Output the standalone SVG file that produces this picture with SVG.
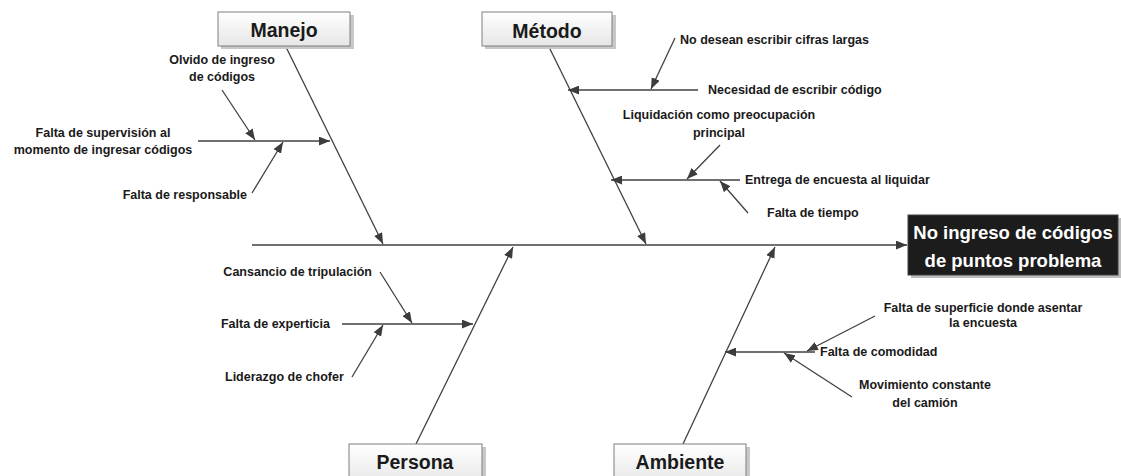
<svg xmlns="http://www.w3.org/2000/svg" width="1121" height="476" viewBox="0 0 1121 476">
<defs>
<linearGradient id="boxg" x1="0" y1="0" x2="0" y2="1">
<stop offset="0" stop-color="#ffffff"/>
<stop offset="1" stop-color="#e6e6e6"/>
</linearGradient>
<marker id="ah" viewBox="0 0 10 8" refX="10" refY="4" markerWidth="11" markerHeight="9" markerUnits="userSpaceOnUse" orient="auto">
<path d="M0,0 L10,4 L0,8 Z" fill="#3c3c3c"/>
</marker>
</defs>
<style>
.ln{stroke:#404040;stroke-width:1.3;fill:none}
.ar{stroke:#404040;stroke-width:1.3;fill:none;marker-end:url(#ah)}
.t{font-family:"Liberation Sans",Arial,sans-serif;font-weight:bold;font-size:12.5px;fill:#1a1a1a}
.cat{font-family:"Liberation Sans",Arial,sans-serif;font-weight:bold;font-size:19.5px;fill:#1a1a1a;text-anchor:middle}
.box{fill:url(#boxg);stroke:#7f7f7f;stroke-width:1}
.sh{fill:#c8c8c8}
.m{text-anchor:middle}
.e{text-anchor:end}
</style>
<rect width="1121" height="476" fill="#ffffff"/>

<g id="connectors">
<line class="ar" x1="252" y1="245" x2="907" y2="245"/>
<line class="ar" x1="286" y1="47" x2="383" y2="244"/>
<line class="ar" x1="549" y1="47" x2="646" y2="244"/>
<line class="ar" x1="416" y1="444" x2="513" y2="247"/>
<line class="ar" x1="683" y1="444" x2="775" y2="247"/>
<line class="ar" x1="198" y1="141" x2="330" y2="141"/>
<line class="ar" x1="222" y1="90" x2="255" y2="140"/>
<line class="ar" x1="252" y1="193" x2="283" y2="142"/>
<line class="ar" x1="698" y1="90" x2="568" y2="90"/>
<line class="ar" x1="675" y1="38" x2="651" y2="89"/>
<line class="ar" x1="740" y1="180" x2="611" y2="180"/>
<line class="ar" x1="720" y1="145" x2="687" y2="179"/>
<line class="ar" x1="748" y1="213" x2="720" y2="181"/>
<line class="ar" x1="342" y1="324" x2="473" y2="324"/>
<line class="ar" x1="380" y1="272" x2="412" y2="323"/>
<line class="ar" x1="352" y1="377" x2="383" y2="325"/>
<line class="ar" x1="815" y1="352" x2="725" y2="352"/>
<line class="ar" x1="875" y1="316" x2="807" y2="351"/>
<line class="ar" x1="852" y1="397" x2="784" y2="353"/>
</g>

<g id="manejo">
<rect class="sh" x="221" y="15" width="133" height="34"/>
<rect class="box" x="218" y="12" width="132" height="34"/>
<text class="cat" x="284" y="37">Manejo</text>
</g>
<g id="metodo">
<rect class="sh" x="485" y="15" width="131" height="34"/>
<rect class="box" x="482" y="12" width="130" height="34"/>
<text class="cat" x="547" y="38">Método</text>
</g>
<g id="persona">
<rect class="sh" x="352" y="447" width="134" height="34"/>
<rect class="box" x="349" y="444" width="133" height="40"/>
<text class="cat" x="415" y="469">Persona</text>
</g>
<g id="ambiente">
<rect class="sh" x="617" y="447" width="133" height="34"/>
<rect class="box" x="614" y="444" width="132" height="40"/>
<text class="cat" x="680" y="469">Ambiente</text>
</g>
<g id="problema">
<rect x="911" y="218" width="210" height="60" fill="#bdbdbd"/>
<rect x="908" y="215" width="210" height="60" fill="#1c1c1c" stroke="#404040" stroke-width="1"/>
<text x="1013" y="239" font-family="Liberation Sans, Arial, sans-serif" font-weight="bold" font-size="18.5" fill="#ffffff" text-anchor="middle">No ingreso de códigos</text>
<text x="1013" y="267" font-family="Liberation Sans, Arial, sans-serif" font-weight="bold" font-size="18.5" fill="#ffffff" text-anchor="middle">de puntos problema</text>
</g>

<g id="c-olvido"><text class="t m" x="222" y="64">Olvido de ingreso</text><text class="t m" x="222" y="81">de códigos</text></g>
<g id="c-supervision"><text class="t m" x="103" y="137">Falta de supervisión al</text><text class="t m" x="103" y="154">momento de ingresar códigos</text></g>
<g id="c-responsable"><text class="t e" x="247" y="199">Falta de responsable</text></g>
<g id="c-nodesean"><text class="t" x="680" y="44">No desean escribir cifras largas</text></g>
<g id="c-necesidad"><text class="t" x="708" y="94">Necesidad de escribir código</text></g>
<g id="c-liquidacion"><text class="t m" x="719" y="119">Liquidación como preocupación</text><text class="t m" x="719" y="137">principal</text></g>
<g id="c-entrega"><text class="t" x="745" y="184">Entrega de encuesta al liquidar</text></g>
<g id="c-tiempo"><text class="t" x="767" y="217">Falta de tiempo</text></g>
<g id="c-cansancio"><text class="t e" x="372" y="276">Cansancio de tripulación</text></g>
<g id="c-experticia"><text class="t e" x="330" y="328">Falta de experticia</text></g>
<g id="c-liderazgo"><text class="t" x="225" y="381">Liderazgo de chofer</text></g>
<g id="c-superficie"><text class="t m" x="983" y="312">Falta de superficie donde asentar</text><text class="t m" x="983" y="327">la encuesta</text></g>
<g id="c-comodidad"><text class="t" x="820" y="356">Falta de comodidad</text></g>
<g id="c-movimiento"><text class="t m" x="925" y="389">Movimiento constante</text><text class="t m" x="925" y="407">del camión</text></g>
</svg>
